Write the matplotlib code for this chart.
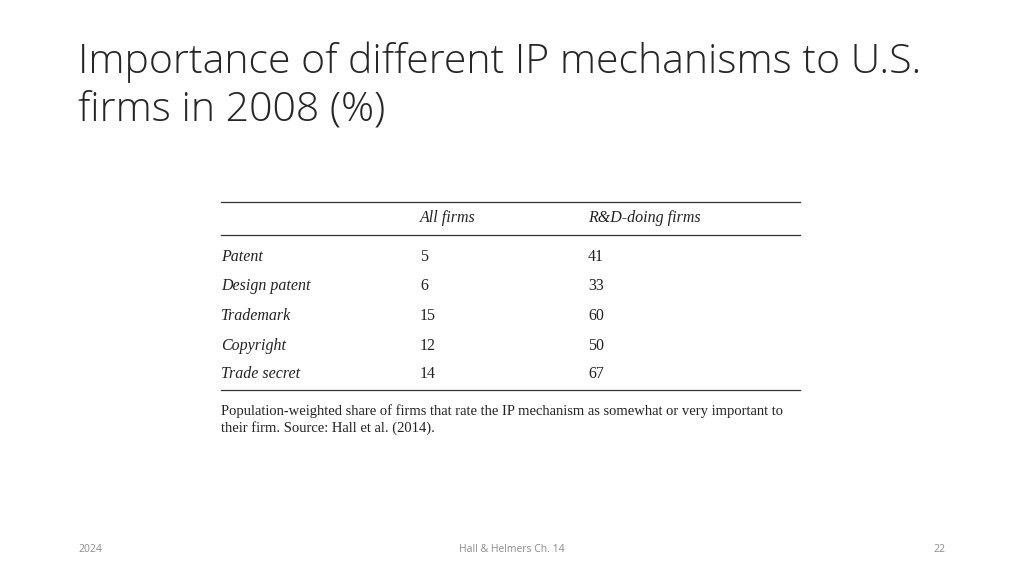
import matplotlib
matplotlib.use("Agg")
import matplotlib.pyplot as plt
from matplotlib.lines import Line2D

title_lines = ["Importance of different IP mechanisms to U.S.", "firms in 2008 (%)"]
columns = ["All firms", "R&D-doing firms"]
categories = ["Patent", "Design patent", "Trademark", "Copyright", "Trade secret"]
all_firms = [5, 6, 15, 12, 14]
rd_firms = [41, 33, 60, 50, 67]
note = ["Population-weighted share of firms that rate the IP mechanism as somewhat or very important to",
        "their firm. Source: Hall et al. (2014)."]
footer = ["2024", "Hall & Helmers Ch. 14", "22"]

W, H = 1024, 576
fig = plt.figure(figsize=(W/100, H/100), dpi=100)
fig.patch.set_facecolor("white")

def px(x, y):
    return x / W, 1 - y / H

def txt(x, y, s, **kw):
    fig.text(*px(x, y), s, va="center", **kw)

def hline(y, x0=221, x1=800):
    fig.add_artist(Line2D([x0/W, x1/W], [1-y/H, 1-y/H], color="#333333", lw=0.9))

# Title
for i, t in enumerate(title_lines):
    txt(78, 62 + 48*i, t, fontsize=29.5, family="Open Sans", fontweight="light", color="#262626")

serif = "Liberation Serif"
hline(202); hline(235); hline(390)
col_x = [420, 588]
for cx, c in zip(col_x, columns):
    txt(cx, 218, c, fontsize=11.5, family=serif, style="italic", color="#222222")
row_y = [257, 286, 316, 346, 374]
for ry, cat, a, r in zip(row_y, categories, all_firms, rd_firms):
    txt(221, ry, cat, fontsize=11.5, family=serif, style="italic", color="#222222")
    txt(col_x[0], ry, str(a), fontsize=11.5, family=serif, color="#222222")
    txt(col_x[1], ry, str(r), fontsize=11.5, family=serif, color="#222222")
for i, n in enumerate(note):
    txt(221, 411 + 17*i, n, fontsize=10.55, family=serif, color="#222222")

txt(78, 549, footer[0], fontsize=7.5, family="Open Sans", color="#8c8c8c")
txt(512, 549, footer[1], fontsize=7.5, family="Open Sans", color="#8c8c8c", ha="center")
txt(945, 549, footer[2], fontsize=7.5, family="Open Sans", color="#8c8c8c", ha="right")

fig.savefig("out.png", dpi=100)
